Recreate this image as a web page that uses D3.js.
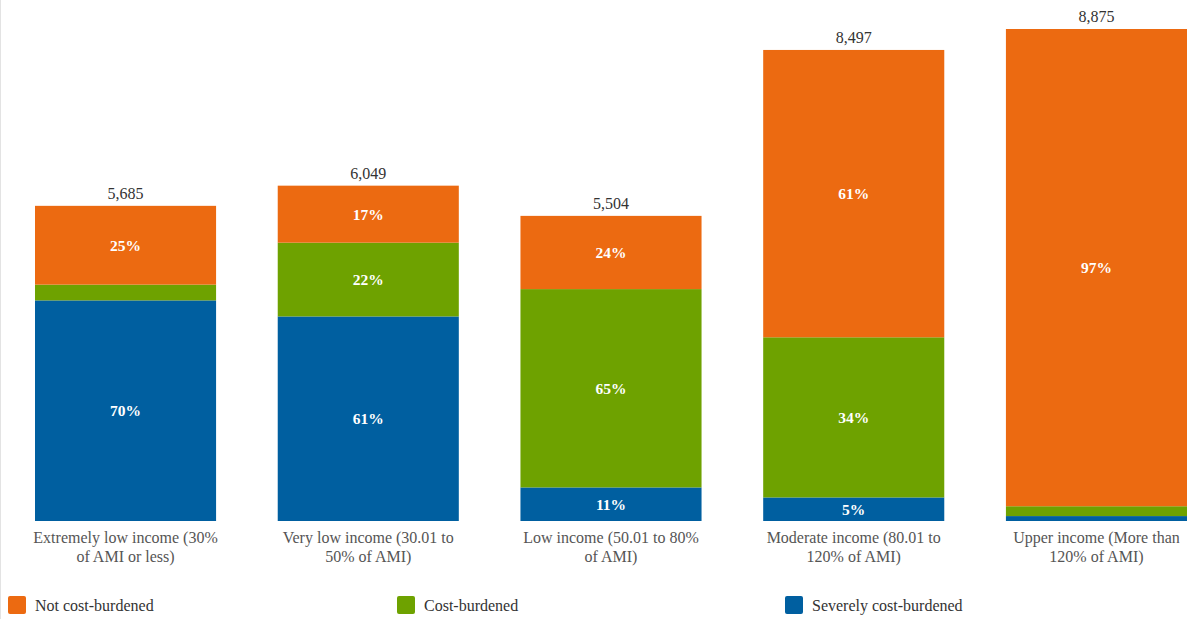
<!DOCTYPE html>
<html>
<head>
<meta charset="utf-8">
<script src="https://cdn.jsdelivr.net/npm/d3@7"></script>
<style>
  body { margin: 0; background: #fff; }
  svg { display: block; font-family: 'Liberation Serif', 'Times New Roman', serif; }
</style>
</head>
<body>
<svg id="chart" width="1188" height="619"></svg>
<script>
const categories = [
    'Extremely low income (30% of AMI or less)',
    'Very low income (30.01 to 50% of AMI)',
    'Low income (50.01 to 80% of AMI)',
    'Moderate income (80.01 to 120% of AMI)',
    'Upper income (More than 120% of AMI)'
];
const totals = [5685, 6049, 5504, 8497, 8875];
const seriesNames = ['Severely cost-burdened', 'Cost-burdened', 'Not cost-burdened'];
const severePct = [70, 61, 11, 5, 1];
const burdenedPct = [5, 22, 65, 34, 2];
const notPct = [25, 17, 24, 61, 97];
const colors = ['#005FA0', '#6EA200', '#EC6A11'];

const svg = d3.select('#chart');
const width = 1188, height = 619;
const margin = { top: 29, left: 35, right: 1, bottom: 98 };

const x = d3.scaleBand()
    .domain(categories)
    .range([margin.left, width - margin.right])
    .paddingInner(0.254)
    .paddingOuter(0);

const y = d3.scaleLinear()
    .domain([0, d3.max(totals)])
    .range([height - margin.bottom, margin.top]);

// faint frame line on the left edge
svg.append('line')
    .attr('x1', 0.5).attr('x2', 0.5)
    .attr('y1', 0).attr('y2', height)
    .attr('stroke', '#e3e3e3');

const pctSeries = [severePct, burdenedPct, notPct];
const rows = categories.map((c, i) => {
    const row = { category: c, total: totals[i] };
    seriesNames.forEach((s, j) => { row[s] = totals[i] * pctSeries[j][i] / 100; });
    return row;
});

const stacked = d3.stack().keys(seriesNames)(rows);

const layers = svg.selectAll('g.layer')
    .data(stacked)
    .enter()
    .append('g')
    .classed('layer', true)
    .attr('fill', (d, i) => colors[i]);

layers.selectAll('rect')
    .data(d => d)
    .enter()
    .append('rect')
    .attr('x', d => x(d.data.category))
    .attr('width', x.bandwidth())
    .attr('y', d => y(d[1]))
    .attr('height', d => y(d[0]) - y(d[1]));

// percent labels inside segments (skipped when the segment is too thin)
layers.each(function(layer, j) {
    d3.select(this).selectAll('text')
        .data(layer.filter(d => y(d[0]) - y(d[1]) >= 20))
        .enter()
        .append('text')
        .attr('x', d => x(d.data.category) + x.bandwidth() / 2)
        .attr('y', d => (y(d[0]) + y(d[1])) / 2)
        .attr('dy', '0.35em')
        .attr('text-anchor', 'middle')
        .attr('fill', '#fff')
        .attr('font-weight', 'bold')
        .attr('font-size', 15.5)
        .text(d => pctSeries[j][categories.indexOf(d.data.category)] + '%');
});

// totals above bars
svg.selectAll('text.total')
    .data(rows)
    .enter()
    .append('text')
    .classed('total', true)
    .attr('x', d => x(d.category) + x.bandwidth() / 2)
    .attr('y', d => y(d.total) - 7)
    .attr('text-anchor', 'middle')
    .attr('font-size', 16)
    .attr('fill', '#333')
    .text(d => d3.format(',')(d.total));

// category labels, wrapped
const catLabels = svg.selectAll('text.cat')
    .data(categories)
    .enter()
    .append('text')
    .classed('cat', true)
    .attr('x', d => x(d) + x.bandwidth() / 2)
    .attr('y', y(0) + 22)
    .attr('text-anchor', 'middle')
    .attr('font-size', 16)
    .attr('fill', '#555');

catLabels.each(function(d) {
    const text = d3.select(this);
    let line = [];
    let tspan = text.append('tspan').attr('x', text.attr('x')).attr('dy', 0);
    d.split(' ').forEach(w => {
        line.push(w);
        tspan.text(line.join(' '));
        if (tspan.node().getComputedTextLength() > 187 && line.length > 1) {
            line.pop();
            tspan.text(line.join(' '));
            line = [w];
            tspan = text.append('tspan').attr('x', text.attr('x')).attr('dy', 19).text(w);
        }
    });
});

// legend
const legendOrder = [2, 1, 0];
const legendX = [8, 397, 785];
const legend = svg.selectAll('g.legend')
    .data(legendOrder)
    .enter()
    .append('g')
    .classed('legend', true)
    .attr('transform', (d, i) => `translate(${legendX[i]},596)`);

legend.append('rect')
    .attr('width', 18)
    .attr('height', 18)
    .attr('rx', 2)
    .attr('fill', d => colors[d]);

legend.append('text')
    .attr('x', 27)
    .attr('y', 9)
    .attr('dy', '0.35em')
    .attr('font-size', 16)
    .attr('fill', '#333')
    .text(d => seriesNames[d]);
</script>
</body>
</html>
